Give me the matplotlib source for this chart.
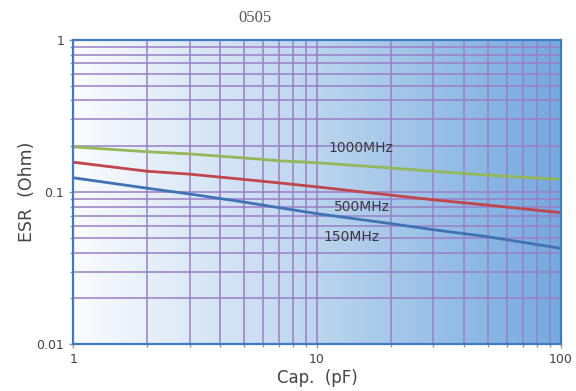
import numpy as np
import matplotlib.pyplot as plt
from matplotlib.colors import LinearSegmentedColormap
from matplotlib.ticker import LogLocator, FixedLocator, FixedFormatter, NullFormatter

# values (Cap. in pF, ESR in Ohm)
cap = [1, 2, 3, 5, 7, 10, 20, 30, 50, 100]
esr_1000 = [0.198, 0.184, 0.178, 0.1674, 0.1604, 0.1556, 0.1438, 0.137, 0.129, 0.121]
esr_500 = [0.157, 0.137, 0.131, 0.121, 0.1147, 0.108, 0.0954, 0.0888, 0.082, 0.0731]
esr_150 = [0.124, 0.106, 0.097, 0.0859, 0.0788, 0.072, 0.062, 0.0565, 0.0508, 0.0426]

labels = ['1000MHz', '500MHz', '150MHz']
label_pos = [(15.1, 0.1935), (15.2, 0.0793), (13.8, 0.0504)]

xticks = [1, 10, 100]
xticklabels = ['1', '10', '100']
yticks = [0.01, 0.1, 1]
yticklabels = ['0.01', '0.1', '1']

fig = plt.figure(figsize=(5.76, 3.91), dpi=100)
ax = fig.add_axes([0.127, 0.120, 0.847, 0.778])
ax.set_xscale('log')
ax.set_yscale('log')
ax.set_xlim(1, 100)
ax.set_ylim(0.01, 1)

# white-to-blue horizontal gradient background
cmap = LinearSegmentedColormap.from_list('bg', ['#fafcfe', '#bcd5ee', '#74aadf'])
grad = np.linspace(0, 1, 256).reshape(1, -1)
ax.imshow(grad, cmap=cmap, aspect='auto', extent=[0, 1, 0, 1],
          transform=ax.transAxes, zorder=0)

grid_color = '#9a7ec6'
ax.xaxis.set_minor_locator(LogLocator(base=10, subs=np.arange(2, 10)))
ax.yaxis.set_minor_locator(LogLocator(base=10, subs=np.arange(2, 10)))
ax.grid(which='both', color=grid_color, linewidth=1.1, zorder=1)
ax.set_axisbelow(False)

ax.plot(cap, esr_1000, color='#93b75a', lw=2, zorder=3)
ax.plot(cap, esr_500, color='#c0464b', lw=2, zorder=3)
ax.plot(cap, esr_150, color='#3f73b3', lw=2, zorder=3)

for txt, (x, y) in zip(labels, label_pos):
    ax.text(x, y, txt, ha='center', va='center', fontsize=10,
            color='#3a3a3a', zorder=4)

ax.xaxis.set_major_locator(FixedLocator(xticks))
ax.xaxis.set_major_formatter(FixedFormatter(xticklabels))
ax.yaxis.set_major_locator(FixedLocator(yticks))
ax.yaxis.set_major_formatter(FixedFormatter(yticklabels))
ax.xaxis.set_minor_formatter(NullFormatter())
ax.yaxis.set_minor_formatter(NullFormatter())
ax.tick_params(which='both', colors='#999999', labelcolor='#444444',
               labelsize=9, length=3, width=1)
ax.tick_params(which='minor', length=2)

for s in ax.spines.values():
    s.set_color('#3d7cc4')
    s.set_linewidth(1.6)
    s.set_zorder(5)

ax.set_xlabel('Cap.  (pF)', fontsize=12, color='#444444', labelpad=2)
ax.set_ylabel('ESR  (Ohm)', fontsize=12.5, color='#444444', labelpad=0)
fig.text(0.443, 0.955, '0505', ha='center', va='center', fontsize=12,
         family='Liberation Serif', color='#555555')

fig.savefig('out.png', dpi=100)
